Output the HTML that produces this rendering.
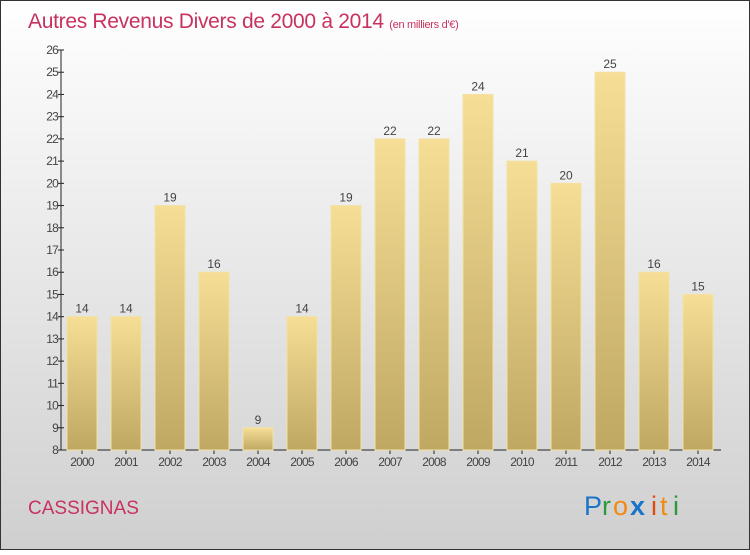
<!DOCTYPE html>
<html><head><meta charset="utf-8"><style>
body{margin:0;width:750px;height:550px;overflow:hidden;font-family:"Liberation Sans",sans-serif}
</style></head><body>
<svg width="750" height="550" xmlns="http://www.w3.org/2000/svg">
<defs>
<linearGradient id="bg" x1="0" y1="0" x2="0" y2="1"><stop offset="0" stop-color="#ffffff"/><stop offset="1" stop-color="#cfcfcf"/></linearGradient>
<linearGradient id="bar" x1="0" y1="0" x2="0" y2="1"><stop offset="0" stop-color="#f6de96"/><stop offset="1" stop-color="#bfa862"/></linearGradient>
</defs>
<rect x="0.5" y="0.5" width="749" height="549" fill="url(#bg)" stroke="#333"/>
<text x="28" y="28" font-size="21" fill="#c8325e" letter-spacing="-0.3">Autres Revenus Divers de 2000 à 2014 <tspan font-size="11">(en milliers d'€)</tspan></text>
<g id="axes"></g>
<g id="bars"></g>
<text x="28" y="514" font-size="19" fill="#c8325e">CASSIGNAS</text>
<g font-size="27" font-family="'Liberation Sans',sans-serif">
<text x="584" y="515" fill="#1a74c8">P</text><text x="602" y="515" fill="#2a9a3a">r</text><text x="613" y="515" fill="#f08a10">o</text><text x="630" y="515" fill="#1a74c8" font-weight="bold">x</text><text x="651" y="515" fill="#e04a10">i</text><text x="660" y="515" fill="#f08a10">t</text><text x="673" y="515" fill="#2a9a3a">i</text>
</g>
</svg>
<script>
const years=["2000","2001","2002","2003","2004","2005","2006","2007","2008","2009","2010","2011","2012","2013","2014"];
const values=[14,14,19,16,9,14,19,22,22,24,21,20,25,16,15];
const yTicks=[8,9,10,11,12,13,14,15,16,17,18,19,20,21,22,23,24,25,26];
const NS="http://www.w3.org/2000/svg";
const y0=450,y1=50,vmin=8,vmax=26;
const ys=v=>y0-(v-vmin)/(vmax-vmin)*(y0-y1);
const xs=i=>82+i*44;
function mk(t,a,p){const e=document.createElementNS(NS,t);for(const k in a)e.setAttribute(k,a[k]);p.appendChild(e);return e;}
const ax=document.getElementById('axes'),bg=document.getElementById('bars');
yTicks.forEach(v=>{
 const t=mk('text',{x:58,y:ys(v)+4,'font-size':12,fill:'#444','text-anchor':'end','letter-spacing':'-0.8'},ax);t.textContent=v;
 
 
 const l=mk('line',{x1:58,x2:64,y1:ys(v),y2:ys(v),stroke:'#222'},ax);
 
 
});
years.forEach((yr,i)=>{
 const v=values[i],x=xs(i);
 const r=mk('rect',{x:x-15,y:ys(v),width:30,height:y0-ys(v),fill:'url(#bar)',stroke:'#f3e2a4','stroke-width':1},bg);
 
 
 const t=mk('text',{x:x,y:ys(v)-4,'font-size':12,fill:'#444','text-anchor':'middle'},bg);t.textContent=v;
 
 
 const xl=mk('text',{x:x,y:466,'font-size':12,fill:'#444','text-anchor':'middle','letter-spacing':'-0.8'},ax);xl.textContent=yr;
 
 
 const tk=mk('line',{x1:x,x2:x,y1:y0,y2:y0+4,stroke:'#222'},ax);
 
 
});
const ya=mk('line',{x1:61,x2:61,y1:y1,y2:y0,stroke:'#222'},ax);


const xa=mk('line',{x1:61,x2:721,y1:y0,y2:y0,stroke:'#222'},ax);


</script>
</body></html>
